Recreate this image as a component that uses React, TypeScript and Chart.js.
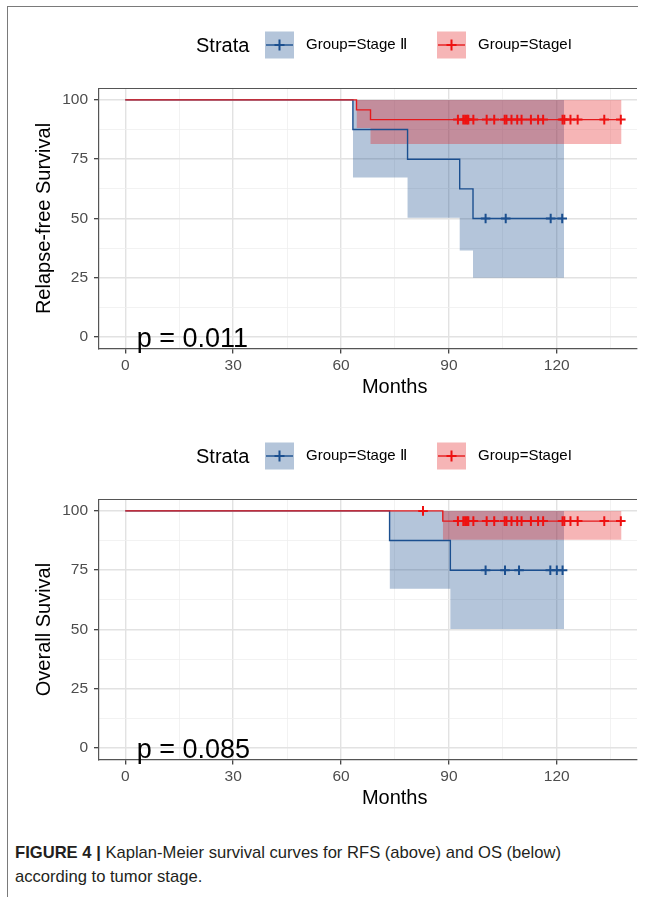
import React, { useEffect, useRef } from 'react';
import { Chart, registerables } from 'chart.js';
Chart.register(...registerables);

const FONT = '"Liberation Sans", Arial, Helvetica, sans-serif';

// axis ticks
const xTicks = [0, 15, 30, 45, 60, 75, 90, 105, 120, 135];
const xLabelled = [0, 30, 60, 90, 120];
const yTicks = [0, 12.5, 25, 37.5, 50, 62.5, 75, 87.5, 100];
const yLabelled = [0, 25, 50, 75, 100];

// legend
const legendTitle = 'Strata';
const stage2Label = 'Group=Stage \u2161';
const stage1Label = 'Group=StageI';

// ---------- RFS (top panel) ----------
const rfsStage2Times = [0, 63.3, 78.5, 93.0, 96.7, 121.5];
const rfsStage2Surv = [100, 87.5, 75, 62.5, 50, 50];
const rfsStage2BandTimes = [63.3, 78.5, 93.0, 96.7, 122.0];
const rfsStage2Lower = [67.3, 50.3, 36.5, 25.0, 25.0];
const rfsStage2Upper = [100, 100, 100, 100, 100];
const rfsStage2Censor = [100.2, 105.8, 118.3, 121.5];

const rfsStage1Times = [0, 64.3, 68.2, 137.8];
const rfsStage1Surv = [100, 95.8, 91.7, 91.7];
const rfsStage1BandTimes = [64.3, 68.2, 138.0];
const rfsStage1Lower = [88.2, 81.4, 81.4];
const rfsStage1Upper = [100, 100, 100];
const rfsStage1Censor = [92.5, 94.0, 94.5, 95.0, 95.4, 96.8, 100.5, 102.6, 105.5, 106.0, 107.4, 109.0, 110.2, 112.8, 114.8, 116.2, 121.6, 122.1, 123.8, 125.8, 133.2, 137.8];
const rfsPValue = 'p = 0.011';
const rfsYTitle = 'Relapse-free Survival';

// ---------- OS (bottom panel) ----------
const osStage2Times = [0, 73.5, 90.4, 121.6];
const osStage2Surv = [100, 87.5, 75, 75];
const osStage2BandTimes = [73.5, 90.4, 122.0];
const osStage2Lower = [67.2, 50.2, 50.2];
const osStage2Upper = [100, 100, 100];
const osStage2Censor = [100.2, 105.6, 109.5, 118.2, 120.0, 121.6];

const osStage1Times = [0, 88.3, 137.8];
const osStage1Surv = [100, 95.7, 95.7];
const osStage1BandTimes = [88.3, 138.0];
const osStage1Lower = [87.8, 87.8];
const osStage1Upper = [100, 100];
const osStage1Censor = [82.8, 92.5, 94.0, 94.5, 95.0, 95.4, 96.8, 100.5, 102.6, 105.5, 106.0, 107.4, 109.0, 110.2, 112.8, 114.8, 116.2, 121.6, 122.1, 123.8, 125.8, 133.2, 137.8];
const osPValue = 'p = 0.085';
const osYTitle = 'Overall Suvival';

const xTitle = 'Months';

const BLUE = '#1B4F8F';
const BLUE_FILL = 'rgba(27,79,143,0.33)';
const RED = '#E41A1C';
const RED_MARK = '#EE1111';
const RED_FILL = 'rgba(228,26,28,0.32)';

type Pt = { x: number; y: number };
const zip = (xs: number[], ys: number[]): Pt[] => xs.map((x, i) => ({ x, y: ys[i] }));
const survAt = (times: number[], surv: number[], t: number) => {
  let v = surv[0];
  for (let i = 0; i < times.length; i++) if (times[i] <= t) v = surv[i];
  return v;
};
const censorPts = (c: number[], times: number[], surv: number[]): Pt[] => c.map((t) => ({ x: t, y: survAt(times, surv, t) }));

interface Group { times: number[]; surv: number[]; bandT: number[]; lower: number[]; upper: number[]; censor: number[] }
interface PanelSpec { s2: Group; s1: Group; pValue: string; yTitle: string; top: number; height: number; areaTop: number; areaBottom: number }

const CANVAS_W = 654;
const AREA_LEFT = 99;
const AREA_RIGHT = 637;

function makeConfig(p: PanelSpec): any {
  // lower "order" is drawn on top; Stage I (red) sits above Stage II (blue)
  const ds = (g: Group, color: string, markColor: string, fillColor: string, o: number) => [
    { data: zip(g.bandT, g.upper), stepped: 'before', borderWidth: 0, pointRadius: 0, fill: '+1', backgroundColor: fillColor, borderColor: 'transparent', order: 20 + o },
    { data: zip(g.bandT, g.lower), stepped: 'before', borderWidth: 0, pointRadius: 0, fill: false, borderColor: 'transparent', order: 20 + o },
    { data: zip(g.times, g.surv), stepped: 'before', borderWidth: 1.4, pointRadius: 0, fill: false, borderColor: color, order: 10 + o },
    { data: censorPts(g.censor, g.times, g.surv), showLine: false, pointStyle: 'cross', pointRadius: 4.8, pointBorderWidth: 2, pointBorderColor: markColor, pointBackgroundColor: markColor, borderColor: markColor, order: 2 + o },
  ];
  const deco = {
    id: 'deco',
    afterDraw(chart: any) {
      const ctx = chart.ctx;
      const a = chart.chartArea;
      ctx.save();
      // panel top border
      ctx.strokeStyle = '#555555';
      ctx.lineWidth = 1.2;
      ctx.beginPath();
      ctx.moveTo(a.left - 0.6, a.top);
      ctx.lineTo(a.right, a.top);
      ctx.stroke();

      // legend
      const ly = a.top - 43.5;
      ctx.fillStyle = '#000';
      ctx.textBaseline = 'middle';
      ctx.textAlign = 'left';
      ctx.font = `20px ${FONT}`;
      ctx.fillText(legendTitle, 196, ly + 1);
      const key = (x: number, fill: string, col: string, mark: string, label: string) => {
        ctx.fillStyle = fill;
        ctx.fillRect(x, ly - 13.5, 29, 27);
        ctx.strokeStyle = col;
        ctx.lineWidth = 1.4;
        ctx.beginPath();
        ctx.moveTo(x + 1, ly);
        ctx.lineTo(x + 28, ly);
        ctx.stroke();
        ctx.strokeStyle = mark;
        ctx.lineWidth = 2;
        ctx.beginPath();
        ctx.moveTo(x + 14.5 - 5, ly);
        ctx.lineTo(x + 14.5 + 5, ly);
        ctx.moveTo(x + 14.5, ly - 5.5);
        ctx.lineTo(x + 14.5, ly + 5.5);
        ctx.stroke();
        ctx.fillStyle = '#000';
        ctx.font = `15px ${FONT}`;
        ctx.fillText(label, x + 41, ly);
      };
      key(265, BLUE_FILL, BLUE, BLUE, stage2Label);
      key(437, RED_FILL, RED, RED_MARK, stage1Label);

      // axis titles
      ctx.fillStyle = '#000';
      ctx.font = `20px ${FONT}`;
      ctx.textAlign = 'center';
      ctx.textBaseline = 'middle';
      ctx.fillText(xTitle, 394.7, a.bottom + 39);
      ctx.save();
      ctx.translate(44, (a.top + a.bottom) / 2);
      ctx.rotate(-Math.PI / 2);
      ctx.fillText(p.yTitle, 0, 0);
      ctx.restore();

      // p value
      ctx.font = `27px ${FONT}`;
      ctx.textAlign = 'left';
      ctx.textBaseline = 'alphabetic';
      ctx.fillText(p.pValue, 136.7, a.bottom - 1.5);
      ctx.restore();
    },
  };
  const gridColor = (major: boolean) => (major ? '#e2e2e2' : '#efefef');
  return {
    type: 'line',
    data: { datasets: [...ds(p.s2, BLUE, BLUE, BLUE_FILL, 1), ...ds(p.s1, RED, RED_MARK, RED_FILL, 0)] },
    options: {
      animation: false,
      responsive: false,
      events: [],
      layout: { padding: { left: 0, top: p.areaTop, right: CANVAS_W - AREA_RIGHT, bottom: 0 } },
      plugins: { legend: { display: false }, tooltip: { enabled: false }, title: { display: false } },
      scales: {
        x: {
          type: 'linear',
          min: -7.3,
          max: 142.3,
          afterBuildTicks: (s: any) => { s.ticks = xTicks.map((v) => ({ value: v })); },
          afterFit: (s: any) => { s.height = p.height - p.areaBottom; },
          ticks: {
            autoSkip: false,
            maxRotation: 0,
            padding: 3,
            color: '#4d4d4d',
            font: { family: FONT, size: 15.5 },
            callback: (v: number) => (xLabelled.includes(v) ? String(v) : ''),
          },
          grid: {
            color: (c: any) => gridColor(xLabelled.includes(c.tick?.value)),
            lineWidth: (c: any) => (xLabelled.includes(c.tick?.value) ? 1.4 : 0.8),
            tickColor: (c: any) => (xLabelled.includes(c.tick?.value) ? '#333333' : 'rgba(0,0,0,0)'),
            tickLength: 5,
            tickWidth: 1.2,
          },
          border: { display: true, color: '#555555', width: 1.2 },
        },
        y: {
          type: 'linear',
          min: -4.8,
          max: 104.8,
          afterBuildTicks: (s: any) => { s.ticks = yTicks.map((v) => ({ value: v })); },
          afterFit: (s: any) => { s.width = AREA_LEFT; },
          ticks: {
            autoSkip: false,
            padding: 6,
            color: '#4d4d4d',
            font: { family: FONT, size: 15.5 },
            callback: (v: number) => (yLabelled.includes(v) ? String(v) : ''),
          },
          grid: {
            color: (c: any) => gridColor(yLabelled.includes(c.tick?.value)),
            lineWidth: (c: any) => (yLabelled.includes(c.tick?.value) ? 1.4 : 0.8),
            tickColor: (c: any) => (yLabelled.includes(c.tick?.value) ? '#333333' : 'rgba(0,0,0,0)'),
            tickLength: 5,
            tickWidth: 1.2,
          },
          border: { display: true, color: '#555555', width: 1.2 },
        },
      },
    },
    plugins: [deco],
  };
}

const rfsPanel: PanelSpec = {
  s2: { times: rfsStage2Times, surv: rfsStage2Surv, bandT: rfsStage2BandTimes, lower: rfsStage2Lower, upper: rfsStage2Upper, censor: rfsStage2Censor },
  s1: { times: rfsStage1Times, surv: rfsStage1Surv, bandT: rfsStage1BandTimes, lower: rfsStage1Lower, upper: rfsStage1Upper, censor: rfsStage1Censor },
  pValue: rfsPValue,
  yTitle: rfsYTitle,
  top: 0,
  height: 415,
  areaTop: 88.5,
  areaBottom: 348.5,
};

const osPanel: PanelSpec = {
  s2: { times: osStage2Times, surv: osStage2Surv, bandT: osStage2BandTimes, lower: osStage2Lower, upper: osStage2Upper, censor: osStage2Censor },
  s1: { times: osStage1Times, surv: osStage1Surv, bandT: osStage1BandTimes, lower: osStage1Lower, upper: osStage1Upper, censor: osStage1Censor },
  pValue: osPValue,
  yTitle: osYTitle,
  top: 415,
  height: 415,
  areaTop: 84.5,
  areaBottom: 344.5,
};

function Panel({ spec }: { spec: PanelSpec }) {
  const ref = useRef<HTMLCanvasElement>(null);
  useEffect(() => {
    if (!ref.current) return;
    const chart = new Chart(ref.current, makeConfig(spec));
    return () => chart.destroy();
  }, [spec]);
  return (
    <canvas
      ref={ref}
      width={CANVAS_W}
      height={spec.height}
      style={{ position: 'absolute', left: 0, top: spec.top, width: CANVAS_W, height: spec.height }}
    />
  );
}

export default function App() {
  return (
    <div style={{ position: 'absolute', left: 0, top: 0, width: 654, height: 897, background: '#fff', overflow: 'hidden' }}>
      <div style={{ position: 'absolute', left: 7, top: 5.5, width: 631, height: 1.6, background: '#7a7a7a' }} />
      <div style={{ position: 'absolute', left: 6.5, top: 5.5, width: 1.6, height: 892, background: '#7a7a7a' }} />
      <Panel spec={rfsPanel} />
      <Panel spec={osPanel} />
      <div
        style={{
          position: 'absolute',
          left: 15,
          top: 841,
          width: 630,
          fontFamily: FONT,
          fontSize: 16.6,
          lineHeight: '24px',
          color: '#231f20',
          whiteSpace: 'nowrap',
        }}
      >
        <b>FIGURE 4 |</b> Kaplan-Meier survival curves for RFS (above) and OS (below)
        <br />
        according to tumor stage.
      </div>
    </div>
  );
}
